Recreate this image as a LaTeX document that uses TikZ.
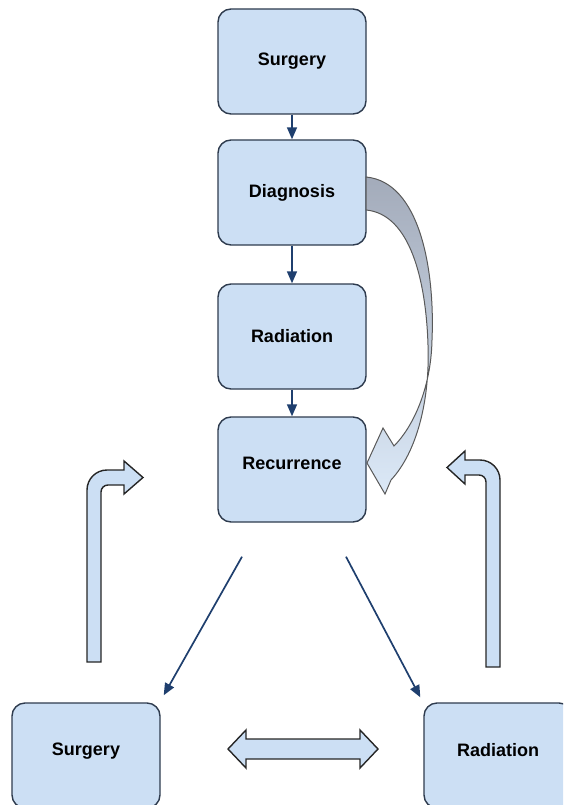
\documentclass[tikz,border=0pt]{standalone}
\usepackage{fontspec}
\setmainfont{Liberation Sans}
\usetikzlibrary{arrows.meta,positioning,calc}

\definecolor{boxfill}{HTML}{CCDFF4}
\definecolor{boxline}{HTML}{2E3B4E}
\definecolor{flowline}{HTML}{1F3F6E}
\definecolor{arcgray}{HTML}{A3ABBA}

\begin{document}
\begin{tikzpicture}[x=1pt,y=-1pt,
  stage/.style={draw=boxline,fill=boxfill,line width=1.4pt,rounded corners=13pt,
    minimum width=148pt,minimum height=105pt,
    font=\fontsize{18}{21}\selectfont\bfseries},
  flow/.style={draw=flowline,line width=1.7pt,-{Triangle[length=12pt,width=10pt]}},
  block/.style={draw=black!85,fill=boxfill,line width=1.4pt,line join=miter}]

  \useasboundingbox (0,0) rectangle (563,805);
  \clip (0,0) rectangle (563,805);

  % main column
  \node[stage] (surgery) at (292,61.5) {Surgery};
  \node[stage] (diagnosis) at (292,192.5) {Diagnosis};
  \node[stage] (radiation) at (292,336.5) {Radiation};
  \node[stage] (recur) at (292,469.5) {\raisebox{13pt}{Recurrence}};

  % treatment options
  \node[stage] (surgeryB) at (86,755.5) {\raisebox{12pt}{Surgery}};
  \node[stage] (radiationB) at (498,755.5) {\raisebox{12pt}{Radiation}};

  \draw[flow] (surgery) -- (diagnosis);
  \draw[flow] (diagnosis) -- (radiation);
  \draw[flow] (radiation) -- (recur);

  % diagonal arrows
  \coordinate (dl) at ($(recur.south)+(-50,34)$);
  \coordinate (dr) at ($(recur.south)+(54,34)$);
  \coordinate (el) at ($(surgeryB.north east)+(3,-7)$);
  \coordinate (er) at ($(radiationB.north west)+(-3,-5)$);
  \draw[flow] (dl) -- (el);
  \draw[flow] (dr) -- (er);

  % curved arrow diagnosis -> recurrence
  \shade[top color=arcgray,middle color=arcgray!55!boxfill,bottom color=boxfill!70!white,
    draw=black!65,line width=1pt]
    (366,177) .. controls (420,182) and (435,270) .. (432,340)
    .. controls (431,390) and (412,428) .. (394,446)
    -- (383,428) -- (367,463) -- (385,494) -- (391,480)
    .. controls (417,452) and (430,400) .. (428,345)
    .. controls (426,280) and (410,214) .. (366,210) -- cycle;

  % bent arrows
  \draw[block] (87,662) [rounded corners=20pt] -- (87,470) [sharp corners]
    -- (124,470) -- (124,461) -- (143,477.5) -- (124,494) -- (124,485)
    [rounded corners=7pt] -- (101,485) [sharp corners] -- (101,662) -- cycle;
  \draw[block] (500,667) [rounded corners=20pt] -- (500,460) [sharp corners]
    -- (465,460) -- (465,451) -- (447,467.5) -- (465,484) -- (465,475)
    [rounded corners=7pt] -- (486,475) [sharp corners] -- (486,667) -- cycle;

  % double arrow
  \draw[block] (228,749) -- (246,730) -- (246,739) -- (360,739) -- (360,730)
    -- (378,749) -- (360,768) -- (360,759) -- (246,759) -- (246,768) -- cycle;

\end{tikzpicture}
\end{document}
